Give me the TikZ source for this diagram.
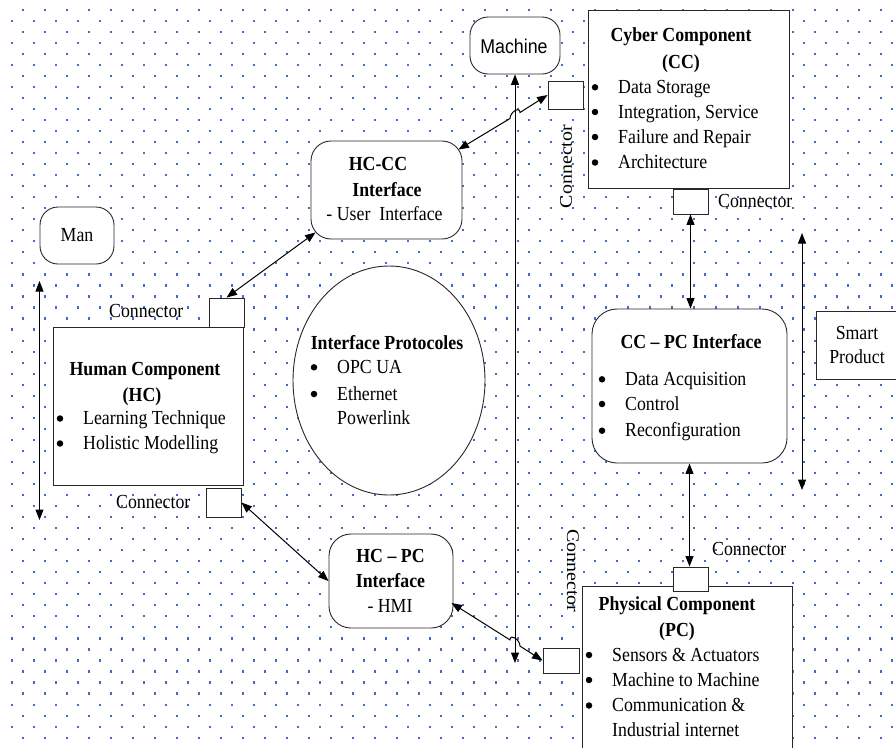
\documentclass[tikz,border=0pt]{standalone}
\usepackage{fontspec}
\usepackage{graphicx}
\setmainfont{Liberation Serif}
\newfontfamily\machinefont{Liberation Sans}
\usetikzlibrary{arrows.meta,calc,shapes.geometric}
% text is set a little taller than wide
\newcommand{\tall}[1]{\scalebox{1}[1.12]{#1}}
\newcommand{\longtxt}[1]{\scalebox{1.12}[1]{#1}}
\definecolor{dotblue}{RGB}{66,110,200}
\definecolor{edge}{RGB}{40,40,40}
\tikzset{
  box/.style={draw=edge, line width=0.9pt, fill=white, inner sep=0pt},
  rbox/.style={box, rounded corners=#1},
  conn/.style={box, minimum width=35pt},
  txt/.style={inner sep=0pt, font=\fontsize{17.8}{22}\selectfont},
  btxt/.style={txt, font=\fontsize{17.8}{22}\selectfont\bfseries},
  bul/.style={circle, fill=black, inner sep=0pt, minimum size=6.5pt},
  tip/.tip={Triangle[length=10.5pt,width=8pt]},
  arr/.style={tip-tip, line width=1pt, black},
}
\begin{document}
\begin{tikzpicture}[x=1pt,y=-1pt]
\clip (0,0) rectangle (896,747);
\fill[white] (0,0) rectangle (896,747);
% dotted paper
\foreach \r [evaluate=\r as \yy using {9.7+11.03*\r},
             evaluate=\r as \xo using {11.7+11*mod(\r+1,2)}] in {0,...,67}{
  \foreach \c in {0,...,40}{
    \fill[dotblue] (\xo+22*\c-1.1,\yy-1.1) rectangle ++(2.2,2.2);
  }
}

% ---------- boxes ----------
\node[rbox=18pt, minimum width=90pt, minimum height=57pt] (machine) at (515,45.5) {};
\node[txt, anchor=base, font=\fontsize{17.8}{22}\machinefont] (machinetxt) at (514,53.3) {\tall{Machine}};

\node[box, minimum width=201pt, minimum height=178pt] (cc) at (688.5,99) {};
\node[conn, minimum height=28pt] (ccL) at (565.5,95) {};
\node[conn, minimum height=25pt] (ccB) at (690.5,201.5) {};

\node[rbox=20pt, minimum width=151pt, minimum height=98pt] (hccc) at (386.5,190) {};
\node[rbox=18pt, minimum width=74pt, minimum height=57pt] (man) at (77,235.5) {};

\node[box, minimum width=190pt, minimum height=158pt] (hc) at (148,406) {};
\node[conn, minimum height=29pt] (hcT) at (226.5,312.5) {};
\node[conn, minimum height=29pt] (hcB) at (223.5,502.5) {};

\node[ellipse, box, minimum width=192pt, minimum height=229pt] (proto) at (389,380.5) {};

\node[rbox=25pt, minimum width=195pt, minimum height=154pt] (ccpc) at (689.5,386) {};
\node[box, minimum width=84pt, minimum height=68pt] (smart) at (858,345) {};

\node[rbox=22pt, minimum width=124pt, minimum height=94pt] (hcpc) at (391,581) {};

\node[box, minimum width=210pt, minimum height=174pt] (pc) at (687,673) {};
\node[conn, minimum height=24pt] (pcT) at (690.5,579) {};
\node[conn, minimum width=36pt, minimum height=25pt] (pcL) at (561,660.5) {};

% ---------- texts ----------
% Cyber Component
\node[btxt, anchor=base] (cct1) at (681,41.5) {\tall{Cyber Component}};
\node[btxt, anchor=base] (cct2) at (681,68.5) {\tall{(CC)}};
\foreach \t/\yb [count=\i] in {Data Storage/93.3, {Integration, Service}/118, Failure and Repair/143, Architecture/168.5}{
  \node[bul] (ccb\i) at (595,\yb-6) {};
  \node[txt, anchor=base west] (cci\i) at (618,\yb) {\tall{\t}};
}
\node[txt, anchor=base west] (ccBlab) at (718,207) {\tall{Connector}};
\node[txt, rotate=90] (ccLlab) at (566,166.5) {\longtxt{Connector}};

% HC-CC Interface
\node[btxt, anchor=base] (hccct1) at (378,170.5) {\tall{HC-CC}};
\node[btxt, anchor=base] (hccct2) at (387,196) {\tall{Interface}};
\node[txt, anchor=base] (hccct3) at (384.5,220.7) {\tall{- User\ \ Interface}};

% Man
\node[txt, anchor=base] (mantxt) at (77,241.7) {\tall{Man}};

% Human Component
\node[btxt, anchor=base] (hct1) at (145,375.5) {\tall{Human Component}};
\node[btxt, anchor=base] (hct2) at (142,401.7) {\tall{(HC)}};
\foreach \t/\yb [count=\i] in {Learning Technique/424.5, Holistic Modelling/449.5}{
  \node[bul] (hcb\i) at (60,\yb-6) {};
  \node[txt, anchor=base west] (hci\i) at (83,\yb) {\tall{\t}};
}
\node[txt, anchor=base west] (hcTlab) at (109,317.7) {\tall{Connector}};
\node[txt, anchor=base west] (hcBlab) at (116,508.3) {\tall{Connector}};

% Interface Protocoles
\node[btxt, anchor=base] (protot) at (387,349) {\tall{Interface Protocoles}};
\node[bul] (protob1) at (314,367.3) {};
\node[bul] (protob2) at (314,394) {};
\node[txt, anchor=base west] (protoi1) at (337,373.5) {\tall{OPC UA}};
\node[txt, anchor=base west] (protoi2) at (337,400) {\tall{Ethernet}};
\node[txt, anchor=base west] (protoi3) at (337,424.5) {\tall{Powerlink}};

% CC - PC Interface
\node[btxt, anchor=base] (ccpct) at (691,348.5) {\tall{CC -- PC Interface}};
\foreach \t/\yb [count=\i] in {Data Acquisition/385.3, Control/410, Reconfiguration/436.7}{
  \node[bul] (ccpcb\i) at (602,\yb-6) {};
  \node[txt, anchor=base west] (ccpci\i) at (625,\yb) {\tall{\t}};
}

% Smart Product
\node[txt, anchor=base] (smart1) at (857,339) {\tall{Smart}};
\node[txt, anchor=base] (smart2) at (857,363) {\tall{Product}};

% HC - PC Interface
\node[btxt, anchor=base] (hcpct1) at (390.5,562.3) {\tall{HC -- PC}};
\node[btxt, anchor=base] (hcpct2) at (390.5,587.3) {\tall{Interface}};
\node[txt, anchor=base] (hcpct3) at (390,612.7) {\tall{- HMI}};

% Physical Component
\node[btxt, anchor=base] (pct1) at (677,610) {\tall{Physical Component}};
\node[btxt, anchor=base] (pct2) at (677,636.5) {\tall{(PC)}};
\foreach \t/\yb [count=\i] in {Sensors \& Actuators/661, Machine to Machine/686, Communication \&/711.5}{
  \node[bul] (pcb\i) at (589,\yb-6) {};
  \node[txt, anchor=base west] (pci\i) at (612,\yb) {\tall{\t}};
}
\node[txt, anchor=base west] (pci4) at (612,736) {\tall{Industrial internet}};
\node[txt, anchor=base west] (pcTlab) at (712,555) {\tall{Connector}};
\node[txt, rotate=-90] (pcLlab) at (573,571) {\longtxt{Connector}};

% ---------- connectors ----------
\coordinate (vend) at (515,663);
\draw[arr] (machine.south) -- (vend);

\coordinate (hop1a) at (510,118.5);
\coordinate (hop1b) at (520,112.5);
\draw[arr] ($(hccc.north east)+(-4,9)$) -- (hop1a)
  .. controls ($(hop1a)+(0,-6.5)$) and ($(hop1b)+(0,-6.5)$) .. (hop1b) -- (ccL.west);

\draw[arr] (hcT.north) -- ($(hccc.south west)+(5,-7)$);
\draw[arr] (hcB.east) -- (hcpc.west);

\coordinate (hop2a) at (510,639.9);
\coordinate (hop2b) at (520,646.1);
\draw[arr] ($(hcpc.east)+(-2,22)$) -- (hop2a)
  .. controls ($(hop2a)+(0,-6.5)$) and ($(hop2b)+(0,-6.5)$) .. (hop2b) -- (pcL.west);

\draw[arr] (ccB.south) -- (ccB.south |- ccpc.north);
\draw[arr] (ccpc.south) -- (ccpc.south |- pcT.north);

\coordinate (leftT) at (39.5,281);
\coordinate (leftB) at (39.5,520);
\draw[arr] (leftT) -- (leftB);
\coordinate (rightT) at (802,233);
\coordinate (rightB) at (802,490);
\draw[arr] (rightT) -- (rightB);
\end{tikzpicture}
\end{document}
